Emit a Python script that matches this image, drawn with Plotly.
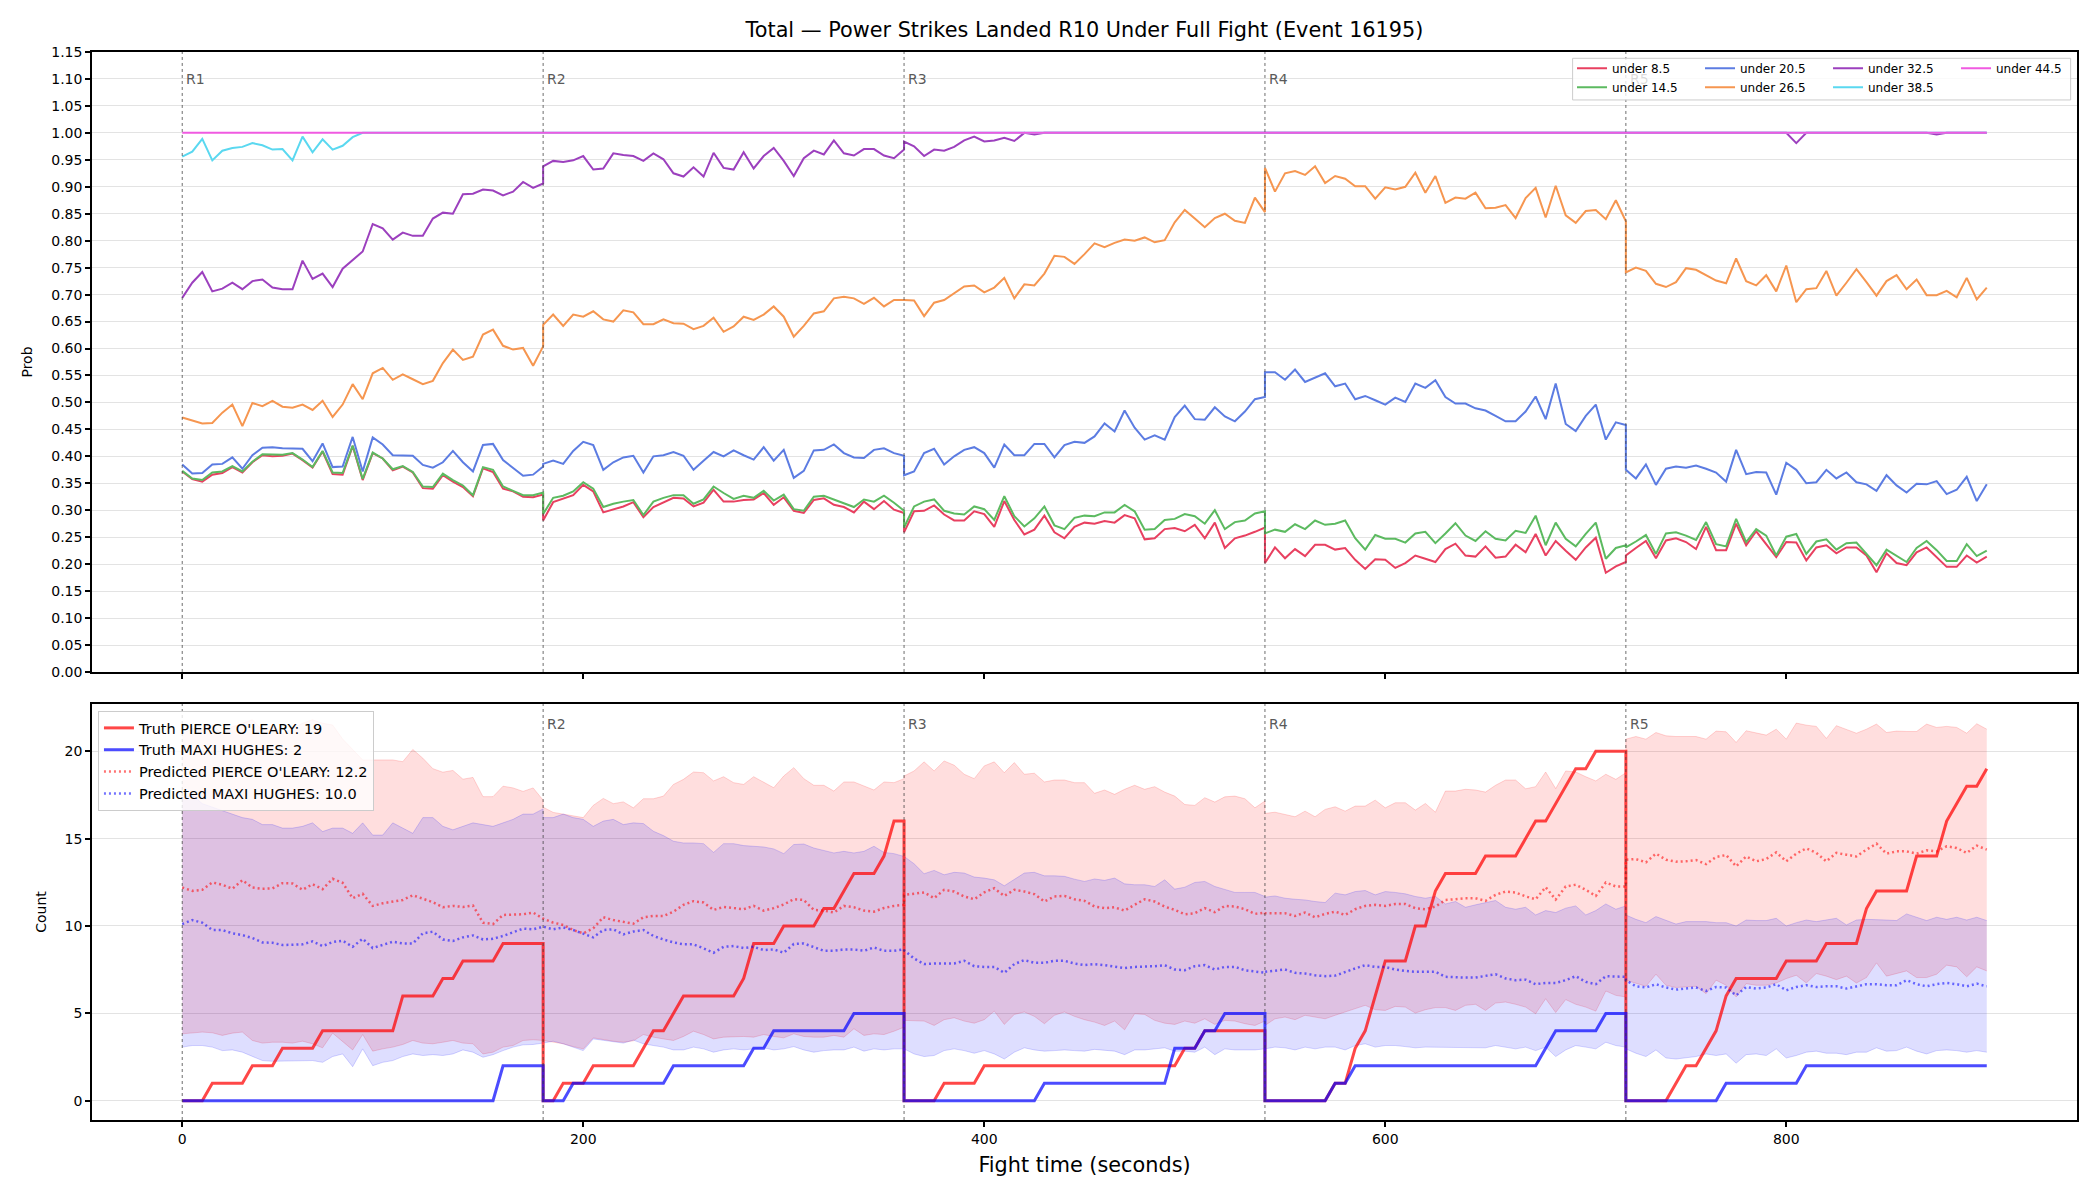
import plotly.graph_objects as go

# ---------------- data (values read per 5-second sample, per round) ----------------
ROUND_STARTS = [0, 180, 360, 540, 720]
ROUND_LABELS = ["R1", "R2", "R3", "R4", "R5"]
SAMPLE_STEP = 5
N_PER_ROUND = 37

U85 = [
    [0.372,0.358,0.353,0.366,0.369,0.380,0.370,0.389,0.402,0.400,0.401,0.405,0.393,0.379,0.409,0.367,0.366,0.419,0.356,0.406,0.396,0.374,0.381,0.370,0.341,0.340,0.365,0.353,0.343,0.326,0.378,0.371,0.340,0.335,0.325,0.324,0.329],
    [0.281,0.315,0.321,0.328,0.347,0.335,0.296,0.302,0.307,0.315,0.287,0.306,0.315,0.323,0.322,0.307,0.314,0.338,0.316,0.316,0.319,0.320,0.332,0.310,0.324,0.299,0.295,0.319,0.322,0.310,0.306,0.296,0.316,0.302,0.317,0.301,0.295],
    [0.259,0.298,0.299,0.309,0.292,0.281,0.281,0.298,0.293,0.269,0.317,0.282,0.255,0.264,0.290,0.259,0.248,0.269,0.277,0.275,0.280,0.277,0.291,0.285,0.246,0.248,0.265,0.267,0.261,0.273,0.248,0.277,0.230,0.248,0.253,0.260,0.268],
    [0.202,0.231,0.211,0.228,0.215,0.236,0.236,0.227,0.230,0.208,0.191,0.209,0.208,0.193,0.202,0.216,0.210,0.204,0.228,0.238,0.216,0.214,0.233,0.212,0.214,0.236,0.222,0.256,0.216,0.243,0.225,0.208,0.231,0.249,0.184,0.196,0.204],
    [0.216,0.230,0.243,0.211,0.244,0.248,0.241,0.228,0.269,0.226,0.226,0.275,0.235,0.261,0.238,0.213,0.241,0.240,0.207,0.231,0.235,0.220,0.231,0.231,0.216,0.185,0.220,0.202,0.198,0.222,0.231,0.213,0.195,0.195,0.216,0.203,0.214],
]
U145 = [
    [0.373,0.359,0.356,0.370,0.372,0.382,0.372,0.390,0.404,0.403,0.403,0.406,0.394,0.380,0.410,0.370,0.369,0.420,0.358,0.407,0.396,0.376,0.382,0.371,0.344,0.343,0.368,0.356,0.346,0.328,0.380,0.375,0.344,0.336,0.328,0.328,0.333],
    [0.293,0.323,0.327,0.335,0.352,0.340,0.306,0.312,0.316,0.319,0.291,0.316,0.323,0.328,0.328,0.312,0.320,0.344,0.332,0.321,0.327,0.323,0.336,0.318,0.329,0.302,0.299,0.325,0.327,0.320,0.314,0.306,0.320,0.316,0.327,0.314,0.299],
    [0.268,0.307,0.316,0.320,0.299,0.294,0.292,0.307,0.302,0.282,0.326,0.289,0.270,0.285,0.307,0.272,0.265,0.286,0.290,0.289,0.296,0.296,0.310,0.298,0.264,0.265,0.282,0.284,0.293,0.289,0.275,0.300,0.265,0.278,0.281,0.294,0.298],
    [0.257,0.264,0.260,0.274,0.265,0.281,0.273,0.275,0.281,0.248,0.227,0.254,0.247,0.247,0.240,0.257,0.260,0.239,0.257,0.276,0.253,0.243,0.261,0.247,0.244,0.262,0.258,0.290,0.235,0.277,0.247,0.233,0.256,0.277,0.210,0.230,0.235],
    [0.231,0.242,0.254,0.219,0.257,0.259,0.253,0.245,0.278,0.237,0.233,0.284,0.241,0.265,0.253,0.216,0.251,0.256,0.219,0.242,0.246,0.227,0.239,0.240,0.219,0.198,0.227,0.216,0.204,0.230,0.243,0.226,0.206,0.206,0.237,0.215,0.225],
]
U205 = [
    [0.385,0.368,0.369,0.385,0.386,0.398,0.377,0.402,0.416,0.417,0.415,0.415,0.414,0.391,0.424,0.380,0.381,0.436,0.372,0.435,0.422,0.402,0.402,0.401,0.384,0.379,0.389,0.410,0.389,0.372,0.421,0.423,0.393,0.378,0.364,0.366,0.381],
    [0.386,0.392,0.386,0.410,0.427,0.421,0.375,0.389,0.398,0.401,0.370,0.400,0.402,0.408,0.401,0.375,0.392,0.408,0.400,0.411,0.402,0.394,0.417,0.392,0.412,0.360,0.373,0.411,0.412,0.422,0.406,0.398,0.397,0.412,0.415,0.406,0.401],
    [0.365,0.372,0.406,0.414,0.385,0.400,0.412,0.417,0.406,0.379,0.422,0.402,0.402,0.423,0.423,0.398,0.421,0.427,0.425,0.437,0.461,0.446,0.485,0.453,0.431,0.439,0.431,0.473,0.494,0.469,0.468,0.491,0.474,0.465,0.483,0.506,0.510],
    [0.556,0.556,0.542,0.561,0.538,0.546,0.554,0.530,0.535,0.506,0.512,0.504,0.496,0.509,0.501,0.535,0.527,0.541,0.510,0.498,0.498,0.489,0.485,0.475,0.465,0.465,0.483,0.511,0.469,0.535,0.460,0.447,0.475,0.496,0.431,0.463,0.458],
    [0.375,0.359,0.385,0.347,0.377,0.381,0.379,0.383,0.377,0.370,0.353,0.412,0.367,0.371,0.370,0.329,0.388,0.375,0.350,0.352,0.375,0.359,0.370,0.352,0.348,0.336,0.365,0.346,0.333,0.349,0.348,0.354,0.330,0.338,0.362,0.317,0.348],
]
U265 = [
    [0.472,0.467,0.461,0.462,0.481,0.496,0.456,0.499,0.493,0.503,0.492,0.490,0.496,0.486,0.503,0.473,0.496,0.534,0.506,0.554,0.564,0.542,0.552,0.543,0.534,0.540,0.573,0.598,0.579,0.585,0.626,0.635,0.605,0.598,0.601,0.568,0.604],
    [0.644,0.663,0.642,0.663,0.659,0.669,0.654,0.650,0.671,0.667,0.645,0.645,0.654,0.647,0.646,0.636,0.642,0.657,0.631,0.641,0.659,0.653,0.663,0.678,0.659,0.622,0.642,0.665,0.669,0.693,0.696,0.693,0.683,0.694,0.678,0.690,0.690],
    [0.690,0.689,0.660,0.685,0.690,0.702,0.715,0.717,0.704,0.713,0.731,0.693,0.719,0.717,0.739,0.772,0.770,0.757,0.775,0.795,0.788,0.796,0.802,0.800,0.806,0.797,0.801,0.834,0.857,0.841,0.825,0.842,0.850,0.837,0.833,0.880,0.853],
    [0.935,0.891,0.925,0.929,0.922,0.938,0.907,0.920,0.915,0.901,0.901,0.878,0.899,0.895,0.900,0.926,0.889,0.920,0.870,0.880,0.878,0.889,0.860,0.861,0.866,0.842,0.879,0.898,0.843,0.902,0.847,0.833,0.855,0.857,0.840,0.875,0.836],
    [0.741,0.750,0.744,0.720,0.714,0.723,0.749,0.746,0.736,0.726,0.721,0.767,0.725,0.717,0.736,0.706,0.754,0.686,0.710,0.712,0.744,0.698,0.722,0.747,0.723,0.698,0.725,0.736,0.710,0.728,0.699,0.699,0.707,0.695,0.731,0.691,0.713],
]
U325 = [
    [0.694,0.722,0.742,0.706,0.711,0.722,0.710,0.725,0.728,0.713,0.710,0.710,0.763,0.729,0.739,0.714,0.748,0.764,0.780,0.831,0.823,0.802,0.815,0.809,0.809,0.841,0.852,0.850,0.886,0.887,0.895,0.893,0.884,0.891,0.909,0.898,0.906],
    [0.938,0.948,0.946,0.949,0.957,0.932,0.934,0.962,0.959,0.957,0.948,0.962,0.951,0.925,0.919,0.936,0.919,0.963,0.935,0.932,0.964,0.934,0.957,0.972,0.948,0.920,0.953,0.967,0.960,0.986,0.962,0.958,0.970,0.970,0.958,0.953,0.969],
    [0.984,0.975,0.957,0.969,0.967,0.974,0.986,0.993,0.984,0.986,0.991,0.985,1.000,0.997,1.000,1.000,1.000,1.000,1.000,1.000,1.000,1.000,1.000,1.000,1.000,1.000,1.000,1.000,1.000,1.000,1.000,1.000,1.000,1.000,1.000,1.000,1.000],
    [1.000] * 37,
    [1.000,1.000,1.000,1.000,1.000,1.000,1.000,1.000,1.000,1.000,1.000,1.000,1.000,1.000,1.000,1.000,1.000,0.981,1.000,1.000,1.000,1.000,1.000,1.000,1.000,1.000,1.000,1.000,1.000,1.000,1.000,0.997,1.000,1.000,1.000,1.000,1.000],
]
U385 = [
    [0.956,0.965,0.989,0.949,0.967,0.972,0.974,0.981,0.977,0.969,0.970,0.949,0.993,0.964,0.988,0.969,0.976,0.992,1.000,1.000,1.000,1.000,1.000,1.000,1.000,1.000,1.000,1.000,1.000,1.000,1.000,1.000,1.000,1.000,1.000,1.000,1.000],
    [1.000] * 37,
    [1.000] * 37,
    [1.000] * 37,
    [1.000] * 37,
]
U445 = [[1.000] * 37 for _ in range(5)]

PROB_NAMES = ["under 8.5", "under 14.5", "under 20.5", "under 26.5", "under 32.5", "under 38.5", "under 44.5"]
PROB_SERIES = [U85, U145, U205, U265, U325, U385, U445]
PROB_COLORS = ["#E84060", "#5CBA60", "#5C7CE2", "#F69650", "#9C40BE", "#5AD8F0", "#F05AE1"]

# ---- bottom panel: per-round counts ----
TRUTH_PIERCE = [
    [0,0,0,1,1,1,1,2,2,2,3,3,3,3,4,4,4,4,4,4,4,4,6,6,6,6,7,7,8,8,8,8,9,9,9,9,9],
    [0,0,1,1,1,2,2,2,2,2,3,4,4,5,6,6,6,6,6,6,7,9,9,9,10,10,10,10,11,11,12,13,13,13,14,16,16],
    [0,0,0,0,1,1,1,1,2,2,2,2,2,2,2,2,2,2,2,2,2,2,2,2,2,2,2,2,3,3,4,4,4,4,4,4,4],
    [0,0,0,0,0,0,0,1,1,3,4,6,8,8,8,10,10,12,13,13,13,13,14,14,14,14,15,16,16,17,18,19,19,20,20,20,20],
    [0,0,0,0,0,1,2,2,3,4,6,7,7,7,7,7,8,8,8,8,9,9,9,9,11,12,12,12,12,14,14,14,16,17,18,18,19],
]
TRUTH_MAXI = [
    [0,0,0,0,0,0,0,0,0,0,0,0,0,0,0,0,0,0,0,0,0,0,0,0,0,0,0,0,0,0,0,0,2,2,2,2,2],
    [0,0,0,1,1,1,1,1,1,1,1,1,1,2,2,2,2,2,2,2,2,3,3,4,4,4,4,4,4,4,4,5,5,5,5,5,5],
    [0,0,0,0,0,0,0,0,0,0,0,0,0,0,1,1,1,1,1,1,1,1,1,1,1,1,1,3,3,3,4,4,5,5,5,5,5],
    [0,0,0,0,0,0,0,1,1,2,2,2,2,2,2,2,2,2,2,2,2,2,2,2,2,2,2,2,3,4,4,4,4,4,5,5,5],
    [0,0,0,0,0,0,0,0,0,0,1,1,1,1,1,1,1,1,2,2,2,2,2,2,2,2,2,2,2,2,2,2,2,2,2,2,2],
]
PRED_PIERCE = [
    [12.20,12.01,12.07,12.49,12.36,12.13,12.62,12.20,12.13,12.15,12.45,12.43,12.07,12.39,12.11,12.70,12.47,11.59,11.84,11.15,11.30,11.40,11.49,11.76,11.55,11.36,11.07,11.15,11.09,11.17,10.19,10.11,10.63,10.67,10.67,10.77,10.42],
    [10.42,10.19,10.06,9.77,9.58,9.87,10.50,10.34,10.25,10.13,10.50,10.57,10.57,10.82,11.21,11.42,11.34,10.92,11.09,11.02,10.96,11.15,10.88,11.02,11.23,11.53,11.49,10.92,10.88,10.77,11.15,11.07,10.88,10.82,11.03,11.15,11.21],
    [11.78,11.84,11.92,11.59,12.07,11.97,11.69,11.53,11.92,12.16,11.72,12.07,11.97,11.82,11.40,11.69,11.72,11.53,11.44,11.11,11.02,11.07,10.88,11.21,11.53,11.40,11.11,10.92,10.67,10.73,11.02,10.79,11.15,11.11,10.96,10.69,10.77],
    [10.73,10.73,10.73,10.57,10.77,10.50,10.69,10.82,10.63,10.96,11.15,11.21,11.15,11.26,11.26,11.02,10.96,11.11,11.49,11.53,11.59,11.59,11.44,11.78,11.97,11.92,11.69,11.53,12.22,11.51,12.26,12.36,12.07,11.72,12.49,12.26,12.26],
    [13.79,13.83,13.64,14.14,13.79,13.68,13.70,13.77,13.54,13.95,14.06,13.41,13.98,13.70,13.83,14.21,13.70,14.14,14.44,14.18,13.70,14.18,14.08,13.98,14.37,14.71,14.14,14.27,14.27,14.14,14.33,14.27,14.56,14.46,14.18,14.60,14.37],
]
PRED_MAXI = [
    [10.11,10.34,10.19,9.77,9.77,9.58,9.48,9.31,9.06,9.04,8.91,8.93,8.95,9.12,8.85,9.08,9.16,8.81,9.27,8.74,8.91,9.10,9.00,9.00,9.58,9.67,9.23,9.14,9.35,9.46,9.23,9.27,9.43,9.64,9.85,9.81,9.96],
    [9.96,9.81,9.92,9.77,9.54,9.35,9.77,9.81,9.52,9.68,9.77,9.43,9.23,9.06,8.95,8.95,8.72,8.47,8.81,8.85,8.74,8.81,8.62,8.66,8.47,8.97,9.00,8.77,8.58,8.58,8.66,8.66,8.58,8.77,8.58,8.58,8.66],
    [8.62,8.14,7.82,7.85,7.85,7.85,8.01,7.70,7.66,7.66,7.32,7.82,8.05,7.89,7.89,8.01,8.01,7.85,7.76,7.82,7.76,7.66,7.59,7.66,7.66,7.70,7.76,7.51,7.47,7.70,7.76,7.51,7.66,7.66,7.47,7.39,7.32],
    [7.38,7.43,7.51,7.32,7.28,7.18,7.13,7.16,7.38,7.57,7.76,7.66,7.66,7.51,7.43,7.38,7.38,7.38,7.09,7.05,7.05,7.05,7.13,7.24,7.00,6.90,6.93,6.67,6.74,6.74,6.90,7.13,6.80,6.67,7.13,7.13,7.09],
    [6.90,6.55,6.48,6.67,6.48,6.36,6.42,6.48,6.28,6.51,6.48,6.03,6.51,6.42,6.48,6.67,6.32,6.51,6.61,6.51,6.55,6.55,6.42,6.55,6.67,6.67,6.61,6.61,6.90,6.67,6.55,6.67,6.74,6.67,6.55,6.70,6.55],
]
PIERCE_HI = [
    [21.0,21.3,21.2,21.5,21.0,21.4,21.6,21.8,21.2,21.5,21.0,21.3,21.6,21.8,21.6,21.5,20.7,20.1,19.5,19.5,19.5,19.5,19.4,20.1,19.6,19.0,18.8,18.9,18.4,18.5,17.4,17.4,18.0,17.9,17.7,17.9,17.2],
    [16.8,16.5,16.4,16.3,16.2,16.9,17.3,17.0,17.1,16.76,17.28,17.28,17.43,18.10,18.39,18.81,18.77,18.30,18.54,18.20,18.10,18.54,18.24,17.91,18.58,19.06,18.43,18.05,18.05,17.72,18.24,18.24,18.01,17.78,18.24,18.20,18.43],
    [18.58,18.87,19.39,18.87,19.44,19.20,18.68,18.43,19.16,19.39,18.77,19.35,18.68,18.74,18.24,18.35,18.35,18.20,18.20,17.59,17.78,17.53,17.82,18.05,17.82,17.97,17.66,17.43,16.95,16.90,17.34,17.09,17.39,17.43,17.28,16.76,17.15],
    [16.44,16.51,16.38,16.25,16.57,16.25,16.67,16.82,16.57,16.86,16.86,17.20,16.76,17.05,17.05,16.63,17.01,16.51,17.72,17.72,17.82,17.78,17.66,18.05,18.35,18.35,17.85,17.97,18.81,17.86,18.87,18.81,18.54,18.30,18.68,18.39,18.77],
    [20.69,20.84,20.69,21.07,20.88,20.84,20.84,20.84,20.69,21.15,21.11,20.50,21.17,21.03,20.92,21.26,20.69,21.61,21.49,21.42,20.73,21.46,21.23,21.03,21.26,21.55,21.07,21.15,21.13,21.13,21.55,21.36,21.42,21.36,21.03,21.57,21.26],
]
PIERCE_LO = [
    [3.83,3.87,3.93,3.89,3.74,3.87,3.93,3.45,3.30,3.35,3.35,3.30,3.41,3.26,3.03,3.87,3.41,2.91,3.79,2.84,2.97,3.07,3.22,3.45,3.30,3.26,3.35,3.45,3.30,3.26,2.68,2.78,3.07,3.16,3.45,3.49,3.45],
    [3.45,3.35,3.26,3.10,2.97,3.60,3.49,3.41,3.35,3.43,3.79,3.64,3.54,3.45,3.68,3.98,3.79,3.54,3.64,3.68,3.68,3.64,3.79,3.68,3.60,3.83,3.68,3.64,3.64,3.74,3.64,4.12,3.74,3.83,3.79,3.98,4.21],
    [4.60,4.56,4.56,4.31,4.64,4.75,4.56,4.44,4.64,5.13,4.37,4.94,5.08,4.83,4.41,4.89,5.08,4.83,4.64,4.50,4.31,4.56,4.06,4.98,4.94,4.60,4.44,4.37,4.56,4.44,4.69,4.37,4.60,4.56,4.41,4.31,4.56],
    [4.31,4.69,4.79,4.64,4.89,4.79,4.69,4.89,5.08,5.27,5.46,5.21,5.17,5.40,5.36,5.02,5.21,5.33,5.33,5.17,5.46,5.52,5.17,5.59,5.65,5.52,5.36,4.98,5.84,5.05,5.79,5.52,5.36,5.13,6.28,6.03,5.94],
    [6.90,6.74,6.55,7.24,6.61,6.48,6.51,6.55,6.13,6.90,6.61,5.94,6.70,6.61,6.61,6.74,6.99,7.18,6.74,7.28,7.13,6.93,7.13,6.74,7.05,7.89,7.13,7.28,7.43,7.05,7.05,7.24,7.76,7.66,7.09,7.66,7.43],
]
MAXI_HI = [
    [17.3,17.5,17.0,16.8,16.6,16.4,16.2,16.1,15.8,15.8,15.6,15.6,15.7,15.9,15.4,15.6,15.6,15.3,15.9,15.2,15.2,15.9,15.6,15.3,16.2,16.2,15.7,15.5,15.7,15.9,15.8,15.7,15.9,16.1,16.4,16.4,16.7],
    [16.2,16.2,16.4,16.2,16.1,15.7,16.0,16.1,15.8,15.9,15.86,15.42,15.17,14.85,14.75,14.75,14.71,14.21,14.71,14.71,14.60,14.56,14.52,14.41,14.14,14.66,14.69,14.46,14.33,14.18,14.27,14.18,14.27,14.56,14.21,14.14,13.98],
    [13.98,13.56,12.99,13.18,12.93,13.07,13.03,12.80,12.74,12.64,12.30,12.68,13.03,13.07,12.87,12.87,12.84,12.68,12.55,12.69,12.61,12.74,12.41,12.36,12.36,12.26,12.64,12.11,12.22,12.49,12.55,12.26,12.07,11.92,11.92,11.92,11.69],
    [11.65,11.72,11.59,11.53,11.49,11.40,11.34,11.88,11.78,11.97,12.03,11.78,11.97,11.92,11.84,11.69,11.59,11.69,11.26,11.40,11.07,11.21,11.34,11.46,11.07,10.96,11.07,10.63,10.88,10.77,11.02,11.15,10.63,10.88,11.26,10.96,11.15],
    [10.63,10.38,10.19,10.54,10.31,10.11,10.25,10.25,10.25,10.19,10.19,10.00,10.34,10.31,10.31,10.44,10.00,10.19,10.34,10.25,10.34,10.44,10.06,10.34,10.38,10.34,10.34,10.31,10.69,10.50,10.31,10.50,10.38,10.50,10.34,10.50,10.31],
]
MAXI_LO = [
    [3.07,3.16,3.16,3.07,2.87,2.91,2.78,2.53,2.30,2.26,2.26,2.30,2.26,2.30,2.20,2.53,2.68,1.95,2.97,2.01,2.20,2.30,2.53,2.68,2.59,2.64,2.59,2.68,2.91,2.78,2.49,2.64,2.87,3.07,3.20,3.22,3.30],
    [3.30,3.41,3.26,3.07,2.87,3.54,3.45,3.35,3.30,3.47,3.26,3.16,3.07,2.91,2.91,3.07,2.97,2.78,2.91,2.97,2.91,2.97,3.03,2.91,2.97,3.10,2.91,2.78,2.87,2.91,2.91,3.07,2.84,2.97,2.91,2.97,2.97],
    [2.97,2.68,2.53,2.59,2.87,2.97,2.87,2.72,2.87,2.68,2.39,2.78,3.03,2.91,2.84,2.87,2.91,2.87,2.84,2.94,2.91,2.84,2.64,2.91,2.91,2.97,3.03,2.84,2.84,2.78,3.07,2.64,2.97,2.91,2.91,2.91,2.97],
    [2.97,3.07,3.03,2.91,3.07,2.97,3.07,3.07,2.91,3.16,3.26,3.07,3.16,3.16,3.10,3.03,3.07,3.07,3.03,3.07,3.03,3.07,3.03,3.16,3.07,2.97,3.07,2.87,3.07,2.53,2.91,3.16,3.07,2.97,3.35,3.16,3.07],
    [2.97,2.72,2.53,2.91,2.45,2.39,2.45,2.53,2.68,2.59,2.68,2.15,2.64,2.68,2.59,2.97,2.45,2.59,2.78,2.84,2.72,2.72,2.64,2.78,2.78,3.03,2.84,2.87,3.07,2.84,2.68,2.87,2.91,2.87,2.78,2.87,2.78],
]
TRUTH_NAMES = ["Truth PIERCE O'LEARY: 19", "Truth MAXI HUGHES: 2"]
PRED_NAMES = ["Predicted PIERCE O'LEARY: 12.2", "Predicted MAXI HUGHES: 10.0"]

TITLE = "Total \u2014 Power Strikes Landed R10 Under Full Fight (Event 16195)"
FONT = "DejaVu Sans"


def flat(rounds):
    out = []
    for r in rounds:
        out += list(r)
    return out


T = []
for s in ROUND_STARTS:
    T += [s + SAMPLE_STEP * k for k in range(N_PER_ROUND)]

fig = go.Figure()

# ---------------- top panel ----------------
legend_of = ["legend", "legend3", "legend", "legend3", "legend", "legend3", "legend"]
for name, ser, col, lg in zip(PROB_NAMES, PROB_SERIES, PROB_COLORS, legend_of):
    fig.add_trace(go.Scatter(x=T, y=flat(ser), mode="lines", name=name,
                             line=dict(color=col, width=2), legend=lg,
                             xaxis="x", yaxis="y", hoverinfo="skip"))

# ---------------- bottom panel ----------------
bands = [
    (PIERCE_LO, PIERCE_HI, "rgba(255,0,0,0.13)", "rgba(255,0,0,0.16)"),
    (MAXI_LO, MAXI_HI, "rgba(0,0,255,0.13)", "rgba(0,0,255,0.16)"),
]
for lo, hi, fillc, linec in bands:
    fig.add_trace(go.Scatter(x=T, y=flat(lo), mode="lines", line=dict(color=linec, width=1),
                             showlegend=False, xaxis="x2", yaxis="y2", hoverinfo="skip"))
    fig.add_trace(go.Scatter(x=T, y=flat(hi), mode="lines", line=dict(color=linec, width=1),
                             fill="tonexty", fillcolor=fillc,
                             showlegend=False, xaxis="x2", yaxis="y2", hoverinfo="skip"))

fig.add_trace(go.Scatter(x=T, y=flat(TRUTH_PIERCE), mode="lines", name=TRUTH_NAMES[0],
                         line=dict(color="rgba(255,0,0,0.72)", width=3), legend="legend2",
                         legendrank=1, xaxis="x2", yaxis="y2"))
fig.add_trace(go.Scatter(x=T, y=flat(TRUTH_MAXI), mode="lines", name=TRUTH_NAMES[1],
                         line=dict(color="rgba(0,0,255,0.70)", width=3), legend="legend2",
                         legendrank=2, xaxis="x2", yaxis="y2"))
fig.add_trace(go.Scatter(x=T, y=flat(PRED_PIERCE), mode="lines", name=PRED_NAMES[0],
                         line=dict(color="rgba(255,0,0,0.55)", width=2.5, dash="2px,3px"),
                         legend="legend2", legendrank=3, xaxis="x2", yaxis="y2"))
fig.add_trace(go.Scatter(x=T, y=flat(PRED_MAXI), mode="lines", name=PRED_NAMES[1],
                         line=dict(color="rgba(0,0,255,0.55)", width=2.5, dash="2px,3px"),
                         legend="legend2", legendrank=4, xaxis="x2", yaxis="y2"))

# ---------------- round markers ----------------
shapes = []
annotations = []
for i, (s, lab) in enumerate(zip(ROUND_STARTS, ROUND_LABELS)):
    for yref in ["y domain", "y2 domain"]:
        shapes.append(dict(type="line", xref="x", yref=yref, x0=s, x1=s, y0=0, y1=1,
                           line=dict(color="rgba(60,60,60,0.75)", width=1, dash="dot"), layer="above"))
    top_col = "rgba(90,90,90,0.22)" if lab == "R5" else "#5a5a5a"
    annotations.append(dict(x=s, y=0.957, xref="x", yref="y domain", text=lab, showarrow=False,
                            xanchor="left", yanchor="middle", xshift=2,
                            font=dict(family=FONT, size=14, color=top_col)))
    if lab != "R1":
        annotations.append(dict(x=s, y=0.952, xref="x", yref="y2 domain", text=lab, showarrow=False,
                                xanchor="left", yanchor="middle", xshift=2,
                                font=dict(family=FONT, size=14, color="#5a5a5a")))

# frame for the 4-column legend of the top panel
shapes.append(dict(type="rect", xref="paper", yref="paper", x0=0.7459, x1=0.9968, y0=0.9551, y1=0.9941,
                   fillcolor="rgba(255,255,255,0.8)", line=dict(color="#cccccc", width=1), layer="above"))

axis_common = dict(showline=True, linecolor="black", linewidth=1.5, mirror=True,
                   ticks="outside", ticklen=5, tickwidth=1.5, tickcolor="black",
                   tickfont=dict(family=FONT, size=14, color="black"), zeroline=False)

TOP_DOMAIN = [0.4195, 1.0]
BOT_DOMAIN = [0.0, 0.3895]

fig.update_layout(
    width=2100, height=1200,
    margin=dict(l=92, r=23, t=52, b=80),
    paper_bgcolor="white", plot_bgcolor="white",
    font=dict(family=FONT, color="black"),
    title=dict(text=TITLE, x=0.5, xref="paper", xanchor="center", y=1 - 30 / 1200, yref="container",
               yanchor="middle", font=dict(family=FONT, size=20.8, color="black")),
    xaxis=dict(domain=[0, 1], anchor="y", range=[-45, 945], tickvals=[0, 200, 400, 600, 800],
               showticklabels=False, showgrid=False, **axis_common),
    yaxis=dict(domain=TOP_DOMAIN, anchor="x", range=[0, 1.15], dtick=0.05, tick0=0, tickformat=".2f",
               showgrid=True, gridcolor="#e3e3e3", gridwidth=1,
               title=dict(text="Prob", font=dict(family=FONT, size=14), standoff=15), **axis_common),
    xaxis2=dict(domain=[0, 1], anchor="y2", matches="x", range=[-45, 945], tickvals=[0, 200, 400, 600, 800],
                showgrid=False, title=dict(text="Fight time (seconds)", font=dict(family=FONT, size=20.8),
                                           standoff=12), **axis_common),
    yaxis2=dict(domain=BOT_DOMAIN, anchor="x2", range=[-1.1, 22.7], tickvals=[0, 5, 10, 15, 20],
                showgrid=True, gridcolor="#e3e3e3", gridwidth=1,
                title=dict(text="Count", font=dict(family=FONT, size=14), standoff=15), **axis_common),
    legend=dict(orientation="h", x=0.7456, xanchor="left", y=0.9847, yanchor="middle",
                entrywidth=83, entrywidthmode="pixels", bgcolor="rgba(0,0,0,0)", borderwidth=0,
                font=dict(family=FONT, size=12, color="black"), itemwidth=30, traceorder="normal"),
    legend3=dict(orientation="h", x=0.7456, xanchor="left", y=0.9670, yanchor="middle",
                 entrywidth=83, entrywidthmode="pixels", bgcolor="rgba(0,0,0,0)", borderwidth=0,
                 font=dict(family=FONT, size=12, color="black"), itemwidth=30, traceorder="normal"),
    legend2=dict(orientation="v", x=0.003, xanchor="left", y=0.383, yanchor="top",
                 bgcolor="rgba(255,255,255,0.8)", bordercolor="#cccccc", borderwidth=1,
                 font=dict(family=FONT, size=14.5, color="black"), itemwidth=30, traceorder="normal"),
    shapes=shapes,
    annotations=annotations,
    showlegend=True,
)

fig.write_html("out.html")
